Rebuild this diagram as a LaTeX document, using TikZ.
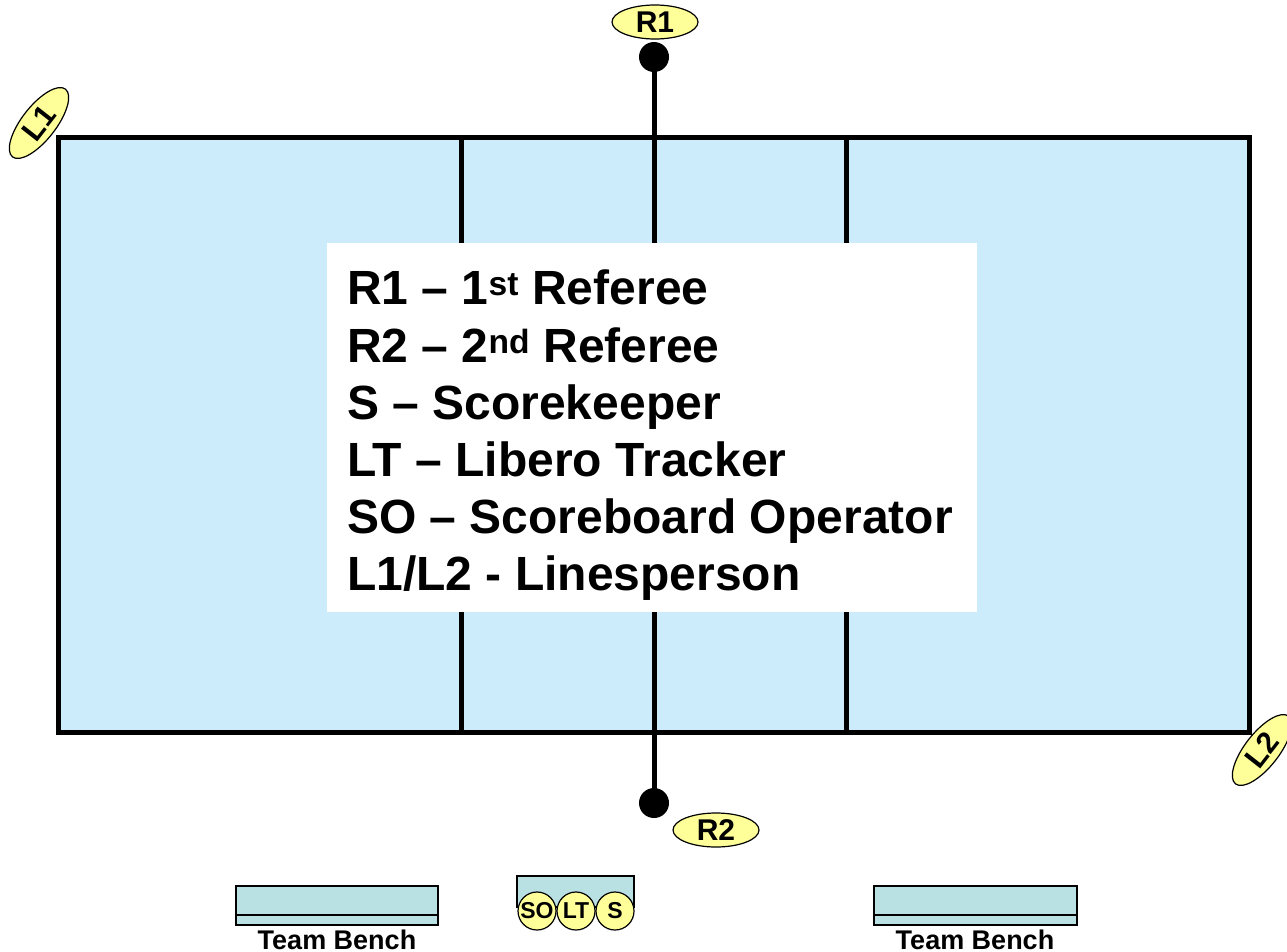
\documentclass[tikz,border=0pt]{standalone}
\usepackage{fontspec}
\setmainfont{Liberation Sans}
\usetikzlibrary{shapes.geometric}
\definecolor{court}{HTML}{CCEBFB}
\definecolor{tag}{HTML}{FFFF99}
\definecolor{bench}{HTML}{B9E0E3}
\tikzset{
  courtline/.style={line width=5pt},
  tagoval/.style={ellipse, draw, line width=1.2pt, fill=tag, minimum width=86pt, minimum height=34pt, inner sep=0pt, font=\fontsize{30}{30}\selectfont\bfseries},
  dotmark/.style={circle, fill=black, minimum size=30pt, inner sep=0pt},
  official/.style={circle, draw, line width=1.2pt, fill=tag, minimum size=38pt, inner sep=0pt, font=\fontsize{23}{23}\selectfont\bfseries},
  benchbox/.style={draw, line width=1.2pt, fill=bench},
  benchlabel/.style={font=\fontsize{27}{27}\selectfont\bfseries, inner sep=0pt},
  legend/.style={fill=white, align=left, anchor=north west, inner sep=0pt, font=\fontsize{48}{57.2}\selectfont\bfseries}
}
\begin{document}
\begin{tikzpicture}[x=1pt,y=-1pt]
\useasboundingbox (0,0) rectangle (1287,951);
% court
\fill[court] (58,137) rectangle (1249,732);
\draw[courtline] (461,137) -- (461,732);
\draw[courtline] (846,137) -- (846,732);
\coordinate (nettop) at (654,57);
\coordinate (netbot) at (654,803);
\draw[courtline] (nettop) -- (netbot);
\draw[courtline] (58,137) rectangle (1249,732);
% legend
\fill[white] (327,243) rectangle (977,612);
\node[legend] (leg) at (347,270) {R1 -- 1\textsuperscript{st} Referee\\R2 -- 2\textsuperscript{nd} Referee\\S -- Scorekeeper\\LT -- Libero Tracker\\SO -- Scoreboard Operator\\L1/L2 - Linesperson};
% referees
\node[dotmark] (d1) at (nettop) {};
\node[dotmark] (d2) at (netbot) {};
\node[tagoval] (r1) at (655,22) {R1};
\node[tagoval] (r2) at (716,830) {R2};
\node[tagoval, rotate=52] (l1) at (39,123) {L1};
\node[tagoval, rotate=52] (l2) at (1262,750) {L2};
% benches
\draw[benchbox] (236,886) rectangle (438,925);
\draw[line width=1.2pt] (236,915) -- (438,915);
\node[benchlabel] (b1) at (337,940) {Team Bench};
\draw[benchbox] (874,886) rectangle (1077,925);
\draw[line width=1.2pt] (874,915) -- (1077,915);
\node[benchlabel] (b2) at (975,940) {Team Bench};
% scorer table
\draw[benchbox] (517,876) rectangle (634,907);
\node[official] (so) at (537,911) {SO};
\node[official] (lt) at (576,911) {LT};
\node[official] (s) at (615,911) {S};
\end{tikzpicture}
\end{document}
